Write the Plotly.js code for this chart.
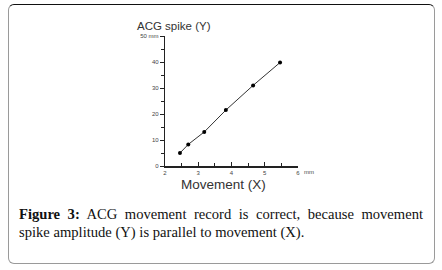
<!DOCTYPE html>
<html>
<head>
<meta charset="utf-8">
<script src="https://cdn.plot.ly/plotly-3.0.1.min.js"></script>
<style>
  html, body { margin:0; padding:0; background:#fff; }
  #wrap { position:relative; width:442px; height:270px; overflow:hidden; }
  #chart { position:absolute; left:0; top:0; width:442px; height:270px; }
  #frame { position:absolute; left:8px; top:4px; width:425px; height:258px;
           border:1.5px solid #9a9a9a; border-top:1.5px solid #111; border-radius:6px; pointer-events:none; }
  #caption { position:absolute; left:19px; top:205px; width:404px;
             font-family:"Liberation Serif", serif; font-size:14.6px; line-height:18px;
             color:#111; }
  #caption .l1 { text-align:justify; text-align-last:justify; white-space:nowrap; }
  #caption .l1 { white-space:normal; }
</style>
</head>
<body>
<div id="wrap">
  <div id="chart"></div>
  <div id="frame"></div>
  <div id="caption">
    <div class="l1"><span style="font-weight:bold">Figure 3:</span> <span>ACG movement record is correct, because movement</span></div>
    <div class="l2">spike amplitude (Y) is parallel to movement (X).</div>
  </div>
</div>
<script>
// Data
const movementX = [2.45, 2.70, 3.18, 3.83, 4.65, 5.46];
const spikeY    = [5.0, 8.3, 13.1, 21.5, 31.0, 39.8];
const xTickVals = [2, 3, 4, 5, 6];
const xTickText = ['2', '3', '4', '5', '6'];
const yTickVals = [0, 10, 20, 30, 40, 50];
const yTickText = ['0', '10', '20', '30', '40', '50 mm'];

const W = 442, H = 270;
const L = 165, R = 144, T = 36, B = 104;
const pw = W - L - R, ph = H - T - B;
const px = v => (v - L) / pw;          // pixel -> paper x
const py = v => (H - B - v) / ph;      // pixel -> paper y

const trace = {
  x: movementX, y: spikeY, type: 'scatter', mode: 'lines+markers',
  line: { color: '#333', width: 1 },
  marker: { color: '#000', size: 4 },
  cliponaxis: false, hoverinfo: 'none'
};

const layout = {
  width: W, height: H,
  margin: { l: L, r: R, t: T, b: B },
  paper_bgcolor: '#fff', plot_bgcolor: '#fff',
  showlegend: false,
  font: { family: 'Arial, "Liberation Sans", sans-serif', color: '#444' },
  xaxis: {
    range: [2, 6], showgrid: false, zeroline: false,
    showline: true, linecolor: '#222', linewidth: 1.5,
    tickmode: 'array', tickvals: xTickVals, ticktext: xTickText,
    ticks: 'inside', ticklen: 4, tickcolor: '#222', tickwidth: 1,
    minor: { dtick: 0.5, ticks: 'inside', ticklen: 3, tickcolor: '#222' },
    tickfont: { size: 6, color: '#444' }, fixedrange: true
  },
  yaxis: {
    range: [0, 50], showgrid: false, zeroline: false,
    showline: true, linecolor: '#222', linewidth: 1.2,
    tickmode: 'array', tickvals: yTickVals, ticktext: yTickText,
    ticks: 'outside', ticklen: 4, tickcolor: '#222', tickwidth: 1,
    minor: { dtick: 5, ticks: 'outside', ticklen: 3, tickcolor: '#222' },
    tickfont: { size: 6, color: '#444' }, fixedrange: true
  },
  annotations: [
    { text: 'ACG spike (Y)', xref: 'paper', yref: 'paper', x: px(135), y: py(26),
      xanchor: 'left', yanchor: 'middle', showarrow: false,
      font: { size: 11.5, color: '#333', family: 'Arial, "Liberation Sans", sans-serif' } },
    { text: 'Movement (X)', xref: 'paper', yref: 'paper', x: px(223), y: py(184),
      xanchor: 'center', yanchor: 'middle', showarrow: false,
      font: { size: 13.5, color: '#333', family: 'Arial, "Liberation Sans", sans-serif' } },
    { text: 'mm', xref: 'paper', yref: 'paper', x: px(302), y: py(172),
      xanchor: 'left', yanchor: 'middle', showarrow: false,
      font: { size: 6, color: '#444' } }
  ]
};

Plotly.newPlot('chart', [trace], layout, { staticPlot: true, displayModeBar: false });
</script>
</body>
</html>
